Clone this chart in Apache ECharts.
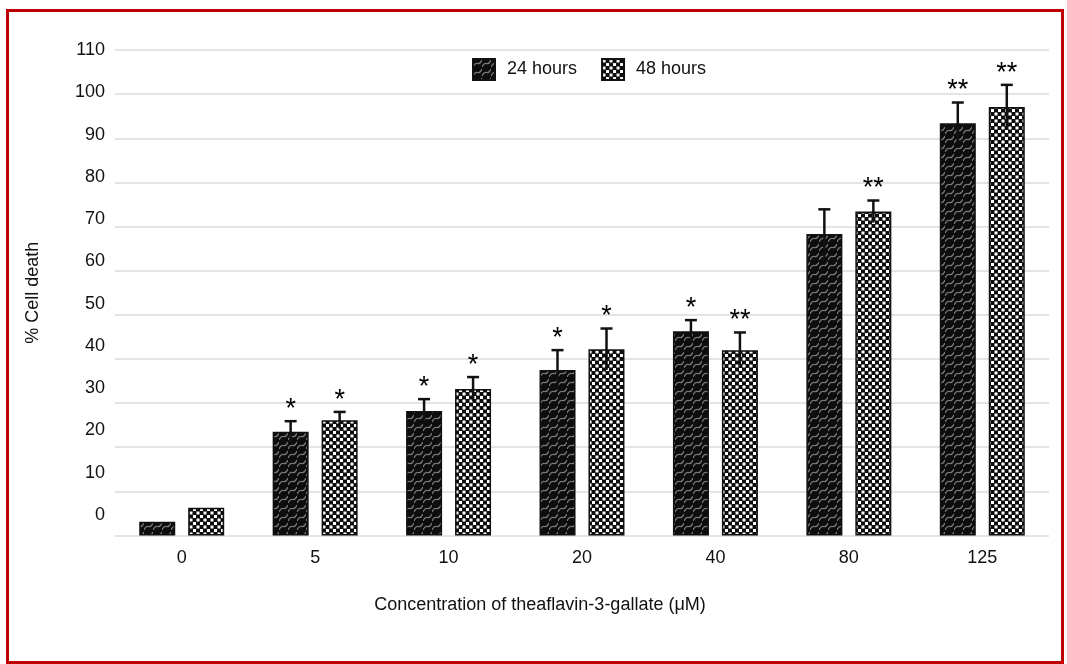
<!DOCTYPE html>
<html>
<head>
<meta charset="utf-8">
<script src="https://cdn.jsdelivr.net/npm/echarts@6/dist/echarts.min.js"></script>
<style>
  html, body { margin: 0; padding: 0; background: #fff; }
  #chart { position: absolute; left: 0; top: 0; width: 1067px; height: 664px; }
  #frame { position: absolute; left: 6px; top: 9px; right: 3px; bottom: 0; border: 3px solid #c00000; pointer-events: none; }
</style>
</head>
<body>
<div id="chart"></div>
<div id="frame"></div>
<script>
// ---- data ----
const categories = ['0', '5', '10', '20', '40', '80', '125'];
const seriesNames = ['24 hours', '48 hours'];
const values24 = [3.1, 23.5, 28.2, 37.5, 46.3, 68.3, 93.4];
const errors24 = [0, 2.4, 2.7, 4.5, 2.5, 5.6, 4.7];
const values48 = [6.3, 26.1, 33.2, 42.2, 42.0, 73.4, 97.1];
const errors48 = [0, 1.9, 2.7, 4.7, 4.0, 2.5, 5.0];
const stars24 = ['', '*', '*', '*', '*', '', '**'];
const stars48 = ['', '*', '*', '*', '**', '**', '**'];
const yTicks = [0, 10, 20, 30, 40, 50, 60, 70, 80, 90, 100, 110];

// ---- patterns ----
function darkPattern() {
  const c = document.createElement('canvas');
  c.width = 9; c.height = 9;
  const g = c.getContext('2d');
  g.fillStyle = '#0d0d0d';
  g.fillRect(0, 0, 9, 9);
  g.strokeStyle = '#7a7a7a';
  g.lineWidth = 1.3;
  g.beginPath();
  g.moveTo(0, 8); g.quadraticCurveTo(2, 3.5, 4.5, 4.5); g.quadraticCurveTo(7, 5.5, 9, 1);
  g.stroke();
  return c;
}
function checkPattern() {
  const c = document.createElement('canvas');
  c.width = 7; c.height = 7;
  const g = c.getContext('2d');
  g.fillStyle = '#0d0d0d';
  g.fillRect(0, 0, 7, 7);
  g.fillStyle = '#fff';
  g.fillRect(0.5, 0.5, 3, 3);
  g.fillRect(4, 4, 3, 3);
  return c;
}
const fill24 = { image: darkPattern(), repeat: 'repeat' };
const fill48 = { image: checkPattern(), repeat: 'repeat' };

const halfOffset = 24.5; // bar centre offset in px

function errData(vals, errs, stars) {
  return vals.map((v, i) => [i, v, errs[i], stars[i]]);
}
function makeErr(sign) {
  return function (params, api) {
    const idx = api.value(0);
    const v = api.value(1);
    const e = api.value(2);
    const star = api.value(3);
    const p = api.coord([idx, v]);
    const x = p[0] + sign * halfOffset;
    const children = [];
    let topY = p[1];
    if (e > 0) {
      const hi = api.coord([idx, v + e])[1];
      const lo = api.coord([idx, v - e])[1];
      topY = hi;
      children.push({ type: 'line', shape: { x1: x, y1: hi, x2: x, y2: lo }, style: { stroke: '#111', lineWidth: 2.5 } });
      children.push({ type: 'line', shape: { x1: x - 6, y1: hi, x2: x + 6, y2: hi }, style: { stroke: '#111', lineWidth: 2.5 } });
    }
    if (star) {
      children.push({ type: 'text', style: { text: star, x: x, y: topY + 2, align: 'center', verticalAlign: 'bottom', fill: '#000', font: '27px "Liberation Sans", Arial, sans-serif' } });
    }
    return { type: 'group', children: children };
  };
}

const chart = echarts.init(document.getElementById('chart'), null, { renderer: 'canvas' });
const font = '"Liberation Sans", Arial, sans-serif';
chart.setOption({
  animation: false,
  backgroundColor: 'transparent',
  legend: {
    data: seriesNames,
    left: 467, top: 53,
    itemWidth: 22, itemHeight: 21, itemGap: 24,
    icon: 'rect',
    textStyle: { fontFamily: font, fontSize: 18, color: '#111', padding: [0, 0, 0, 7] }
  },
  grid: [
    { left: 115, right: 18, top: 50, bottom: 128.5 },
    { left: 115, right: 18, top: 50, bottom: 149 }
  ],
  xAxis: [
    {
      type: 'category', data: categories, gridIndex: 0,
      axisLine: { show: false }, axisTick: { show: false },
      axisLabel: { fontFamily: font, fontSize: 18, color: '#111', margin: 14 },
      name: 'Concentration of theaflavin-3-gallate (μM)', nameLocation: 'middle', nameGap: 61,
      nameTextStyle: { fontFamily: font, fontSize: 18, color: '#111', padding: [0, 84, 0, 0] }
    },
    { type: 'category', data: categories, gridIndex: 1, show: false }
  ],
  yAxis: [
    {
      type: 'value', gridIndex: 0, min: 0, max: 110, interval: 10,
      axisLine: { show: false }, axisTick: { show: false }, axisLabel: { show: false },
      splitLine: { show: true, lineStyle: { color: '#e4e4e4', width: 2 } },
      name: '% Cell death', nameLocation: 'middle', nameGap: 73, nameRotate: 90,
      nameTextStyle: { fontFamily: font, fontSize: 18, color: '#111' }
    },
    {
      type: 'value', gridIndex: 1, min: yTicks[0], max: yTicks[yTicks.length - 1], interval: 10,
      axisLine: { show: false }, axisTick: { show: false }, splitLine: { show: false },
      axisLabel: { fontFamily: font, fontSize: 18, color: '#111', margin: 10 }
    }
  ],
  series: [
    {
      name: seriesNames[0], type: 'bar', data: values24, barWidth: 36, barGap: '36%',
      itemStyle: { color: fill24, borderColor: '#111', borderWidth: 1.5 }
    },
    {
      name: seriesNames[1], type: 'bar', data: values48, barWidth: 36, barGap: '36%',
      itemStyle: { color: fill48, borderColor: '#111', borderWidth: 1.5 }
    },
    { type: 'custom', renderItem: makeErr(-1), data: errData(values24, errors24, stars24), z: 5, silent: true },
    { type: 'custom', renderItem: makeErr(1), data: errData(values48, errors48, stars48), z: 5, silent: true }
  ]
});
</script>
</body>
</html>
